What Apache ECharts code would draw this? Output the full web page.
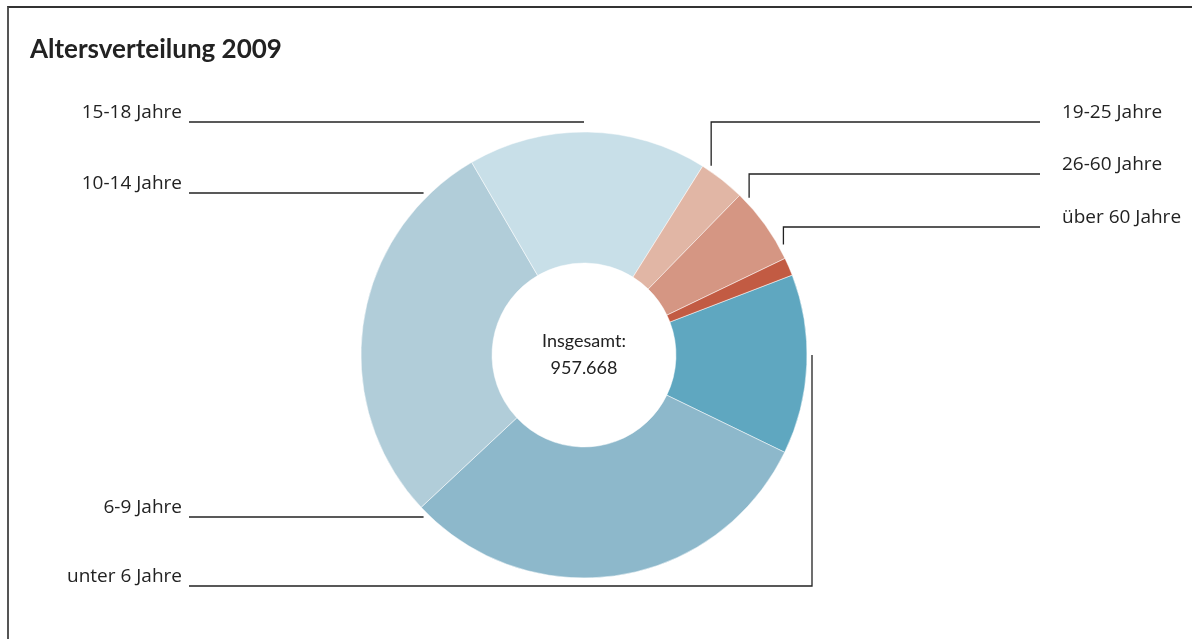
<!DOCTYPE html>
<html>
<head>
<meta charset="utf-8">
<title>Altersverteilung 2009</title>
<script src="https://cdn.jsdelivr.net/npm/echarts@6/dist/echarts.min.js"></script>
<style>
html,body{margin:0;padding:0;background:#fff;}
#rahmen{position:absolute;left:7px;top:6px;width:1185px;height:633px;border-top:2px solid #333;border-left:2px solid #555;}
#main_chart{position:absolute;left:0;top:0;width:1192px;height:639px;}
</style>
</head>
<body>
<div id="rahmen"></div>
<div id="main_chart"></div>
<script>
// Altersgruppen, im Uhrzeigersinn (Start rechts bei "unter 6 Jahre")
var altersgruppen = ['unter 6 Jahre', '6-9 Jahre', '10-14 Jahre', '15-18 Jahre', '19-25 Jahre', '26-60 Jahre', 'über 60 Jahre'];
var anzahl = [124700, 295368, 273600, 166000, 32200, 53400, 12400];
var gesamtText = 'Insgesamt:\n957.668';

// Farben der Segmente
var farben = ['#5fa7c0', '#8db8cb', '#b1cdd9', '#c8dfe8', '#e1b6a5', '#d59683', '#c25b43'];

// Geometrie des Rings
var cx = 584, cy = 355, rInnen = 92, rAussen = 223, rLinie = 228;
var textLinks = 182, textRechts = 1062, linieLinks = 189, linieRechts = 1040;

// Beschriftung: Seite, Hoehe der Linie, ggf. Winkel (von oben, im Uhrzeigersinn) fuer den senkrechten Anschluss
var beschriftung = [
    {seite: 'left', linieY: 586, winkel: 90},
    {seite: 'left', linieY: 517},
    {seite: 'left', linieY: 193},
    {seite: 'left', linieY: 122},
    {seite: 'right', linieY: 122, winkel: 33.9},
    {seite: 'right', linieY: 174, winkel: 46.4},
    {seite: 'right', linieY: 227, winkel: 61}
];

function beschriftungLayout(params){
    var b = beschriftung[params.dataIndex];
    var links = b.seite == 'left';
    var endX = links ? linieLinks : linieRechts;
    var pts, ax, ay;
    if(b.winkel != null){
        var a = b.winkel * Math.PI / 180;
        ax = cx + rLinie * Math.sin(a);
        ay = cy - rLinie * Math.cos(a);
        pts = [[ax, ay], [ax, b.linieY], [endX, b.linieY]];
    }else{
        var dy = b.linieY - cy;
        ax = Math.abs(dy) < rLinie ? cx - Math.sqrt(rLinie * rLinie - dy * dy) : cx;
        pts = [[ax, b.linieY], [ax, b.linieY], [endX, b.linieY]];
    }
    return {
        x: links ? textLinks : textRechts,
        y: b.linieY - 9,
        align: links ? 'right' : 'left',
        verticalAlign: 'middle',
        labelLinePoints: pts
    };
}

var daten = [];
for(var i = 0; i < altersgruppen.length; i++){
    daten.push({name: altersgruppen[i], value: anzahl[i], itemStyle: {color: farben[i]}});
}

var myChart = echarts.init(document.getElementById('main_chart'));
var option = {
    animation: false,
    title: {
        text: 'Altersverteilung 2009',
        left: 30,
        top: 37,
        padding: 0,
        textStyle: {
            fontFamily: 'Lato',
            fontWeight: 'bold',
            fontSize: 26,
            color: '#222'
        }
    },
    graphic: [{
        type: 'text',
        x: cx,
        y: cy,
        silent: true,
        style: {
            text: gesamtText,
            font: '18px Lato',
            lineHeight: 27,
            fill: '#222',
            align: 'center',
            verticalAlign: 'middle',
            textAlign: 'center',
            textVerticalAlign: 'middle'
        }
    }],
    series: [{
        type: 'pie',
        center: [cx, cy],
        radius: [rInnen, rAussen],
        startAngle: 21,
        clockwise: true,
        avoidLabelOverlap: false,
        itemStyle: {borderColor: '#fff', borderWidth: 0.5},
        emphasis: {disabled: true},
        label: {
            show: true,
            position: 'outside',
            formatter: '{b}',
            fontFamily: 'Open Sans',
            fontSize: 19,
            color: '#222'
        },
        labelLine: {
            show: true,
            smooth: false,
            lineStyle: {color: '#222', width: 1.3}
        },
        labelLayout: beschriftungLayout,
        data: daten
    }]
};
myChart.setOption(option);
</script>
</body>
</html>
